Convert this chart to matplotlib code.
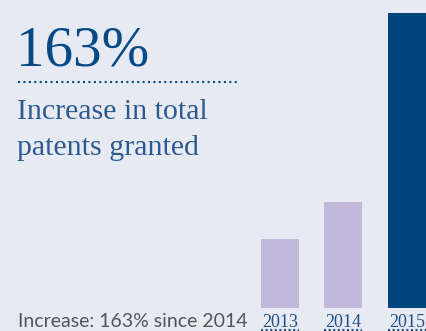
import matplotlib.pyplot as plt
from matplotlib.lines import Line2D
from matplotlib.transforms import blended_transform_factory

# patents granted per year (bar heights, relative units)
years = ["2013", "2014", "2015"]
granted = [69, 106, 295]
bar_colors = ["#c1b8da", "#c1b8da", "#00447e"]

headline = "163%"
subtitle = ["Increase in total", "patents granted"]
footnote = "Increase: 163% since 2014"

BG = "#e8eaf3"
W, H = 427, 331


def main():
    fig = plt.figure(figsize=(W / 100, H / 100), dpi=100, facecolor=BG)

    # bar panel on the right, partly running off the figure edge
    ax = fig.add_axes([248.5 / W, 23 / H, 190 / W, 295 / H])
    ax.set_facecolor("none")
    x = range(len(years))
    ax.bar(x, granted, width=0.6, color=bar_colors)
    ax.set_xlim(-0.5, 2.5)
    ax.set_ylim(0, max(granted))
    ax.set_yticks([])
    ax.set_xticks(list(x))
    ax.set_xticklabels(years, family="Liberation Serif", fontsize=13, color="#1f4f85")
    ax.tick_params(axis="x", length=0, pad=4)
    for s in ax.spines.values():
        s.set_visible(False)

    # dotted underline below each year
    tr = blended_transform_factory(ax.transData, ax.transAxes)
    for i in x:
        ax.plot([i - 0.3, i + 0.3], [-0.075, -0.075], transform=tr, clip_on=False,
                color="#1f4f85", lw=1.5, linestyle=(0, (1, 1.2)))

    fig.text(16 / W, 1 - 65 / H, headline, family="Liberation Serif", fontsize=41,
             color="#064a85", va="baseline")
    fig.add_artist(Line2D([18 / W, 237 / W], [1 - 81.5 / H] * 2, color="#064a85",
                          lw=1.5, linestyle=(0, (1, 1.6))))
    fig.text(17 / W, 1 - 119 / H, subtitle[0], family="Liberation Serif", fontsize=21.5,
             color="#2a5a8e", va="baseline")
    fig.text(17 / W, 1 - 155 / H, subtitle[1], family="Liberation Serif", fontsize=21.5,
             color="#2a5a8e", va="baseline")
    fig.text(18 / W, 1 - 327 / H, footnote, family="Lato", fontsize=14,
             color="#555555", va="baseline")

    fig.savefig("out.png", dpi=100, facecolor=BG)


if __name__ == '__main__':
    main()
